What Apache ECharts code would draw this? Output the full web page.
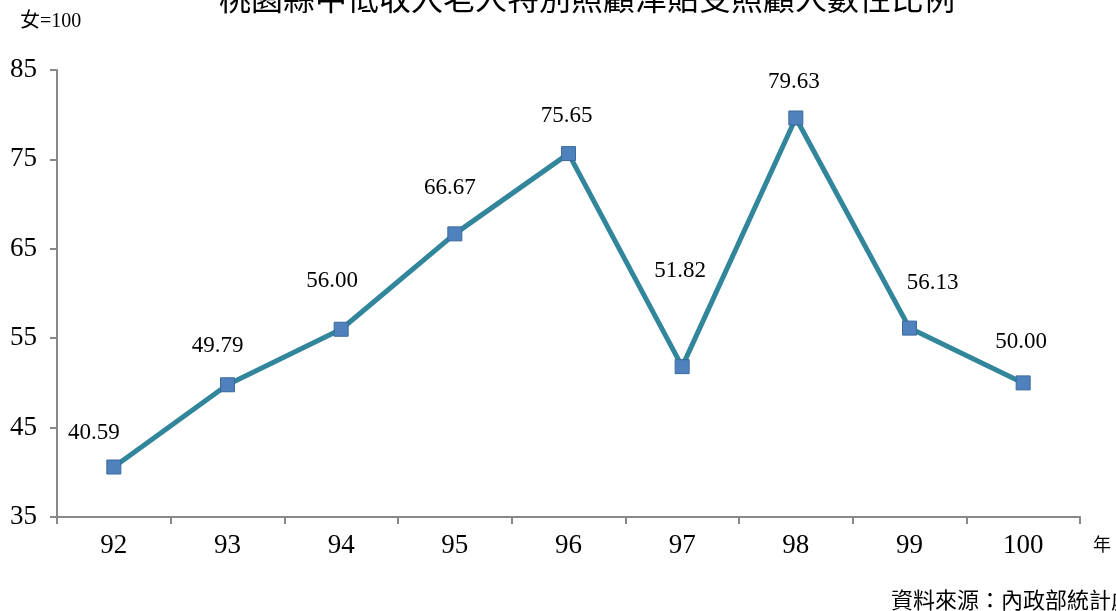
<!DOCTYPE html>
<html><head><meta charset="utf-8">
<script src="https://cdn.jsdelivr.net/npm/echarts@6/dist/echarts.min.js"></script>
<style>html,body{margin:0;padding:0;background:#fff}#c{width:1116px;height:611px}</style>
</head><body><div id="c"></div>
<script>
const years = ['92','93','94','95','96','97','98','99','100'];
const ratio = [40.59, 49.79, 56.00, 66.67, 75.65, 51.82, 79.63, 56.13, 50.00];
const yTicks = [35, 45, 55, 65, 75, 85];

const labelShift = [[-20,-1],[-10,-6],[-9,-15],[-5,-13],[-2,-5],[-2,-63],[-2,-3],[23,-12],[-2,-8]];
const serif = '"Liberation Serif","Noto Sans CJK TC",serif';
const cjk = '"Noto Sans CJK TC","Liberation Serif",serif';

const chart = echarts.init(document.getElementById('c'));
chart.setOption({
  animation: false,
  title: {
    text: '桃園縣中低收入老人特別照顧津貼受照顧人數性比例',
    left: 582, textAlign: 'center', top: -23,
    textStyle: {fontFamily: cjk, fontSize: 32, fontWeight: 'normal', color: '#000'}
  },
  graphic: [
    {type:'text', left: 20, top: 12, style:{text:'女=100', font:'20px '+serif, fill:'#000'}},
    {type:'text', left: 1093, top: 535, style:{text:'年', font:'18px '+cjk, fill:'#000'}},
    {type:'text', left: 891, top: 589, style:{text:'資料來源：內政部統計處', font:'22px '+cjk, fill:'#000'}}
  ],
  grid: {left: 57, right: 36, top: 70, bottom: 94},
  xAxis: {
    type: 'category', data: years, boundaryGap: true,
    axisLine: {lineStyle: {color: '#888', width: 2}},
    axisTick: {show: true, length: 7, lineStyle: {color: '#888', width: 2}},
    axisLabel: {fontFamily: serif, fontSize: 27, color: '#000', margin: 15},
  },
  yAxis: {
    type: 'value', min: 35, max: 85,
    axisLine: {show: true, lineStyle: {color: '#888', width: 2}},
    axisTick: {show: true, length: 7, customValues: yTicks, lineStyle: {color: '#888', width: 2}},
    axisLabel: {fontFamily: serif, fontSize: 27, color: '#000', margin: 20, customValues: yTicks},
    splitLine: {show: false}
  },
  series: [{
    type: 'line',
    data: ratio.map((v, i) => ({
      value: v,
      label: {offset: labelShift[i]}
    })),
    symbol: 'rect', symbolSize: 14,
    lineStyle: {color: '#31869B', width: 5},
    itemStyle: {color: '#4F81BD', borderColor: '#3A6A9E', borderWidth: 1},
    label: {
      show: true, position: 'top', distance: 14,
      fontFamily: serif, fontSize: 23, color: '#000',
      formatter: p => p.value.toFixed(2)
    },
    z: 3
  }]
});
</script></body></html>
